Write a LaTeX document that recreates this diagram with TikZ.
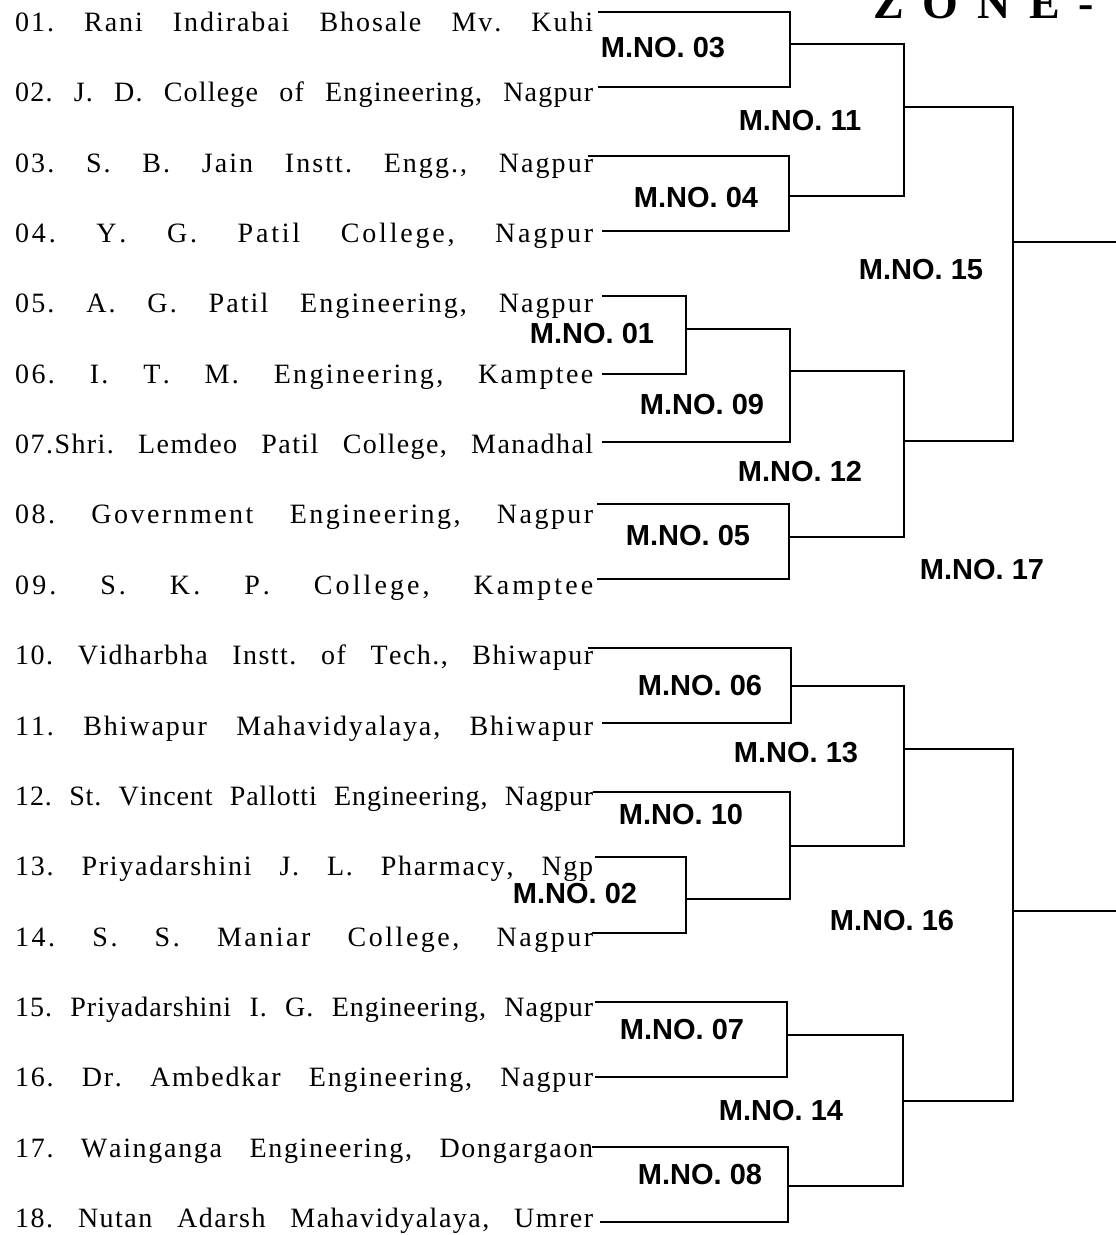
\documentclass[tikz,border=0pt]{standalone}
\usepackage{fontspec}
\setmainfont{Liberation Serif}
\setsansfont{Liberation Sans}
\newfontfamily\zonefont[LetterSpace=16]{Liberation Serif}
\usetikzlibrary{calc}

% spread the letters of a line, words get more of the stretch
\ExplSyntaxOn
\cs_new_protected:Npn \spreadline #1
  {
    \seq_set_split:Nnn \l_tmpa_seq { ~ } { #1 }
    \int_zero:N \l_tmpa_int
    \seq_map_inline:Nn \l_tmpa_seq
      {
        \int_compare:nNnT { \l_tmpa_int } > { 0 } { \skip_horizontal:n { 0.25em ~ plus ~ 12fil } }
        \int_incr:N \l_tmpa_int
        \tl_if_empty:nF {##1}
          { \tl_map_inline:nn {##1} { ####1 \skip_horizontal:n { 0pt ~ plus ~ 1fil } } \unskip }
      }
  }
\ExplSyntaxOff
\newcommand\teamline[1]{\makebox[578pt][s]{\spreadline{#1}}}

\begin{document}
\begin{tikzpicture}[
        x=1pt, y=-1pt,
        team/.style={anchor=base west, inner sep=0pt, font=\fontsize{28}{30}\selectfont},
        match/.style={inner sep=0pt, font=\sffamily\bfseries\fontsize{29}{30}\selectfont},
        zonetitle/.style={anchor=base west, inner sep=0pt, font=\zonefont\bfseries\fontsize{46}{48}\selectfont},
        wire/.style={line width=2.6pt}
    ]
        \useasboundingbox (0,0) rectangle (1116,1235);

        % 1. Title (cut by the page)
        \node (zone) [zonetitle] at (873,18) {Z O N E -};

        % 2. Teams
        \node (t1) [team] at (15,31) {\teamline{01. Rani Indirabai Bhosale Mv. Kuhi}};
        \node (t2) [team] at (15,101) {\teamline{02. J. D. College of Engineering, Nagpur}};
        \node (t3) [team] at (15,172) {\teamline{03. S. B. Jain Instt. Engg., Nagpur}};
        \node (t4) [team] at (15,242) {\teamline{04. Y. G. Patil College, Nagpur}};
        \node (t5) [team] at (15,312) {\teamline{05. A. G. Patil Engineering, Nagpur}};
        \node (t6) [team] at (15,383) {\teamline{06. I. T. M. Engineering, Kamptee}};
        \node (t7) [team] at (15,453) {\teamline{07.Shri. Lemdeo Patil College, Manadhal}};
        \node (t8) [team] at (15,523) {\teamline{08. Government Engineering, Nagpur}};
        \node (t9) [team] at (15,594) {\teamline{09. S. K. P. College, Kamptee}};
        \node (t10) [team] at (15,664) {\teamline{10. Vidharbha Instt. of Tech., Bhiwapur}};
        \node (t11) [team] at (15,735) {\teamline{11. Bhiwapur Mahavidyalaya, Bhiwapur}};
        \node (t12) [team] at (15,805) {\teamline{12. St. Vincent Pallotti Engineering, Nagpur}};
        \node (t13) [team] at (15,875) {\teamline{13. Priyadarshini J. L. Pharmacy, Ngp}};
        \node (t14) [team] at (15,946) {\teamline{14. S. S. Maniar College, Nagpur}};
        \node (t15) [team] at (15,1016) {\teamline{15. Priyadarshini I. G. Engineering, Nagpur}};
        \node (t16) [team] at (15,1086) {\teamline{16. Dr. Ambedkar Engineering, Nagpur}};
        \node (t17) [team] at (15,1157) {\teamline{17. Wainganga Engineering, Dongargaon}};
        \node (t18) [team] at (15,1227) {\teamline{18. Nutan Adarsh Mahavidyalaya, Umrer}};

        % line ends next to the team names
        \coordinate (c1) at (598,12);
        \coordinate (c2) at (598,87);
        \coordinate (c3) at (588,156);
        \coordinate (c4) at (602,231);
        \coordinate (c5) at (602,296);
        \coordinate (c6) at (602,374);
        \coordinate (c7) at (602,442);
        \coordinate (c8) at (597,504);
        \coordinate (c9) at (597,579);
        \coordinate (c10) at (588,648);
        \coordinate (c11) at (602,723);
        \coordinate (c12) at (593,792);
        \coordinate (c13) at (595,857);
        \coordinate (c14) at (592,933);
        \coordinate (c15) at (595,1002);
        \coordinate (c16) at (595,1077);
        \coordinate (c17) at (592,1147);
        \coordinate (c18) at (600,1222);

        % 3. Match joints
        \coordinate (m01) at (686,329);
        \coordinate (m02) at (686,899);
        \coordinate (m03) at (790,44);
        \coordinate (m04) at (789,196);
        \coordinate (m05) at (789,537);
        \coordinate (m06) at (791,686);
        \coordinate (m07) at (787,1035);
        \coordinate (m08) at (788,1186);
        \coordinate (m09) at (790,371);
        \coordinate (m10) at (790,846);
        \coordinate (m11) at (904,107);
        \coordinate (m12) at (904,441);
        \coordinate (m13) at (904,749);
        \coordinate (m14) at (903,1101);
        \coordinate (m15) at (1013,242);
        \coordinate (m16) at (1013,911);
        \coordinate (e15) at (1116,242);
        \coordinate (e16) at (1116,911);

        % 4. Match numbers
        \node (n01) [match] at (592,334) {M.NO. 01};
        \node (n02) [match] at (575,894) {M.NO. 02};
        \node (n03) [match] at (663,48) {M.NO. 03};
        \node (n04) [match] at (696,198) {M.NO. 04};
        \node (n05) [match] at (688,536) {M.NO. 05};
        \node (n06) [match] at (700,686) {M.NO. 06};
        \node (n07) [match] at (682,1030) {M.NO. 07};
        \node (n08) [match] at (700,1175) {M.NO. 08};
        \node (n09) [match] at (702,405) {M.NO. 09};
        \node (n10) [match] at (681,815) {M.NO. 10};
        \node (n11) [match] at (800,121) {M.NO. 11};
        \node (n12) [match] at (800,472) {M.NO. 12};
        \node (n13) [match] at (796,753) {M.NO. 13};
        \node (n14) [match] at (781,1111) {M.NO. 14};
        \node (n15) [match] at (921,270) {M.NO. 15};
        \node (n16) [match] at (892,921) {M.NO. 16};
        \node (n17) [match] at (982,570) {M.NO. 17};

        % First round
        \draw [wire] (c5) -| (m01);
        \draw [wire] (c6) -| (m01);
        \draw [wire] (c13) -| (m02);
        \draw [wire] (c14) -| (m02);
        \draw [wire] (c1) -| (m03);
        \draw [wire] (c2) -| (m03);
        \draw [wire] (c3) -| (m04);
        \draw [wire] (c4) -| (m04);
        \draw [wire] (c8) -| (m05);
        \draw [wire] (c9) -| (m05);
        \draw [wire] (c10) -| (m06);
        \draw [wire] (c11) -| (m06);
        \draw [wire] (c15) -| (m07);
        \draw [wire] (c16) -| (m07);
        \draw [wire] (c17) -| (m08);
        \draw [wire] (c18) -| (m08);

        % Second round
        \draw [wire] (m01) -| (m09);
        \draw [wire] (c7) -| (m09);
        \draw [wire] (c12) -| (m10);
        \draw [wire] (m02) -| (m10);

        % Third round
        \draw [wire] (m03) -| (m11);
        \draw [wire] (m04) -| (m11);
        \draw [wire] (m09) -| (m12);
        \draw [wire] (m05) -| (m12);
        \draw [wire] (m06) -| (m13);
        \draw [wire] (m10) -| (m13);
        \draw [wire] (m07) -| (m14);
        \draw [wire] (m08) -| (m14);

        % Fourth round
        \draw [wire] (m11) -| (m15);
        \draw [wire] (m12) -| (m15);
        \draw [wire] (m15) -- (e15);
        \draw [wire] (m13) -| (m16);
        \draw [wire] (m14) -| (m16);
        \draw [wire] (m16) -- (e16);
    \end{tikzpicture}
\end{document}
